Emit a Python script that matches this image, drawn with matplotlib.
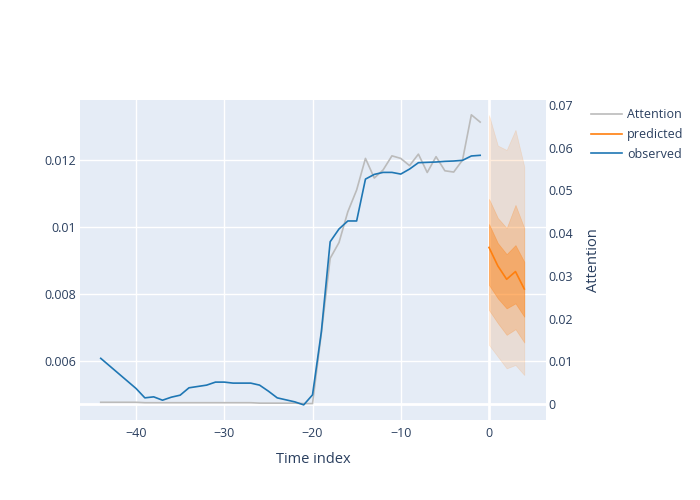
import matplotlib.pyplot as plt
import numpy as np
from matplotlib.lines import Line2D
from matplotlib.transforms import blended_transform_factory

plt.rcParams['font.family'] = ['Open Sans', 'DejaVu Sans']

# Data
obs_t = [-44, -40, -39, -38, -37, -36, -35, -34, -33, -32, -31, -30, -29, -28,
         -27, -26, -25, -24, -23, -22, -21, -20, -19, -18, -17, -16, -15, -14,
         -13, -12, -11, -10, -9, -8, -7, -6, -5, -4, -3, -2, -1]
observed = [0.00608, 0.00518, 0.00490, 0.00493, 0.00483, 0.00492, 0.00498, 0.00520,
            0.00524, 0.00528, 0.00537, 0.00537, 0.00534, 0.00534, 0.00534, 0.00528,
            0.00510, 0.00490, 0.00484, 0.00478, 0.00469, 0.00499, 0.00687, 0.00956,
            0.00994, 0.01018, 0.01018, 0.01143, 0.01157, 0.01163, 0.01163, 0.01158,
            0.01173, 0.01192, 0.01193, 0.01194, 0.01196, 0.01197, 0.01199, 0.01212,
            0.01214]

att_t = list(range(-44, 0))
attention = [0.0004, 0.0004, 0.0004, 0.0004, 0.0004, 0.0003, 0.0003, 0.0003,
             0.0003, 0.0003, 0.0003, 0.0003, 0.0003, 0.0003, 0.0003, 0.0003,
             0.0003, 0.0003, 0.0002, 0.0002, 0.0002, 0.0002, 0.0002, 0.0001,
             0.0001, 0.0165, 0.0341, 0.0378, 0.0450, 0.0501, 0.0575, 0.0529,
             0.0548, 0.0581, 0.0575, 0.0558, 0.0585, 0.0542, 0.0579, 0.0546,
             0.0543, 0.0571, 0.0677, 0.0660]

pred_t = [0, 1, 2, 3, 4]
predicted = [0.00939, 0.00884, 0.00844, 0.00867, 0.00815]
inner_hi = [0.01009, 0.00952, 0.00919, 0.00946, 0.00896]
inner_lo = [0.00827, 0.00787, 0.00757, 0.00772, 0.00732]
mid_hi = [0.01084, 0.01027, 0.00997, 0.01066, 0.00997]
mid_lo = [0.00752, 0.00713, 0.00678, 0.00695, 0.00655]
outer_hi = [0.01334, 0.01243, 0.01230, 0.01290, 0.01180]
outer_lo = [0.00648, 0.00613, 0.00578, 0.00588, 0.00558]

left_ticks = [0.006, 0.008, 0.01, 0.012]
right_ticks = [0, 0.01, 0.02, 0.03, 0.04, 0.05, 0.06, 0.07]
x_ticks = [-40, -30, -20, -10, 0]

bg = '#E5ECF6'
txt = '#2a3f5f'
orange = '#ff7f0e'

fig = plt.figure(figsize=(7, 5), dpi=100)
ax = fig.add_axes([80 / 700, 80 / 500, 466 / 700, 320 / 500])
ax2 = ax.twinx()
ax.set_zorder(ax2.get_zorder() + 1)
ax.patch.set_visible(False)
ax2.patch.set_visible(True)
ax2.set_facecolor(bg)

ax.set_xlim(-46.35, 6.46)
ax.set_ylim(0.004239, 0.013791)
ax2.set_ylim(-0.003746, 0.07117)

# grid lines drawn on the back axes so every trace sits above them
trans = blended_transform_factory(ax2.transAxes, ax.transData)
for v in left_ticks:
    ax2.plot([0, 1], [v, v], transform=trans, color='white', lw=1, zorder=0.5)
for t in x_ticks:
    ax2.axvline(t, color='white', lw=2 if t == 0 else 1, zorder=0.5)
ax2.axhline(0, color='white', lw=2, zorder=0.5)

# attention on right axis
ax2.plot(att_t, attention, color='#bbbbbb', lw=1.2, zorder=2)

# prediction bands, stacked
for (lo, hi), a in zip([(outer_lo, outer_hi), (mid_lo, mid_hi), (inner_lo, inner_hi)],
                       [0.14, 0.24, 0.38]):
    ax.fill_between(pred_t, lo, hi, color=orange, alpha=a, lw=0.5)
ax.plot(pred_t, predicted, color=orange, lw=1.2)
ax.plot(obs_t, observed, color='#1f77b4', lw=1.2)

for a in (ax, ax2):
    for s in a.spines.values():
        s.set_visible(False)

ax.set_xticks(x_ticks)
ax.set_xticklabels([str(t).replace('-', '\u2212') for t in x_ticks])
ax.set_yticks(left_ticks)
ax.set_yticklabels([f'{v:g}' for v in left_ticks])
ax2.set_yticks(right_ticks)
ax2.set_yticklabels([f'{v:g}' for v in right_ticks])
ax.tick_params(axis='both', length=0, labelsize=9, colors=txt)
ax.tick_params(axis='y', pad=3)
ax.tick_params(axis='x', pad=5)
ax2.tick_params(axis='y', length=0, labelsize=9, colors=txt, pad=2)

ax.set_xlabel('Time index', fontsize=10.5, color=txt, labelpad=9)
ax2.set_ylabel('Attention', fontsize=10.5, color=txt, labelpad=9)

handles = [Line2D([], [], color='#bbbbbb', lw=1.2),
           Line2D([], [], color=orange, lw=1.2),
           Line2D([], [], color='#1f77b4', lw=1.2)]
leg = fig.legend(handles, ['Attention', 'predicted', 'observed'],
                 loc='upper left', bbox_to_anchor=(591 / 700, 1 - 108 / 500),
                 frameon=False, fontsize=9, handlelength=2.5, handletextpad=0.4,
                 labelspacing=0.55, borderpad=0, borderaxespad=0)
for t in leg.get_texts():
    t.set_color(txt)

fig.savefig('out.png', dpi=100)
